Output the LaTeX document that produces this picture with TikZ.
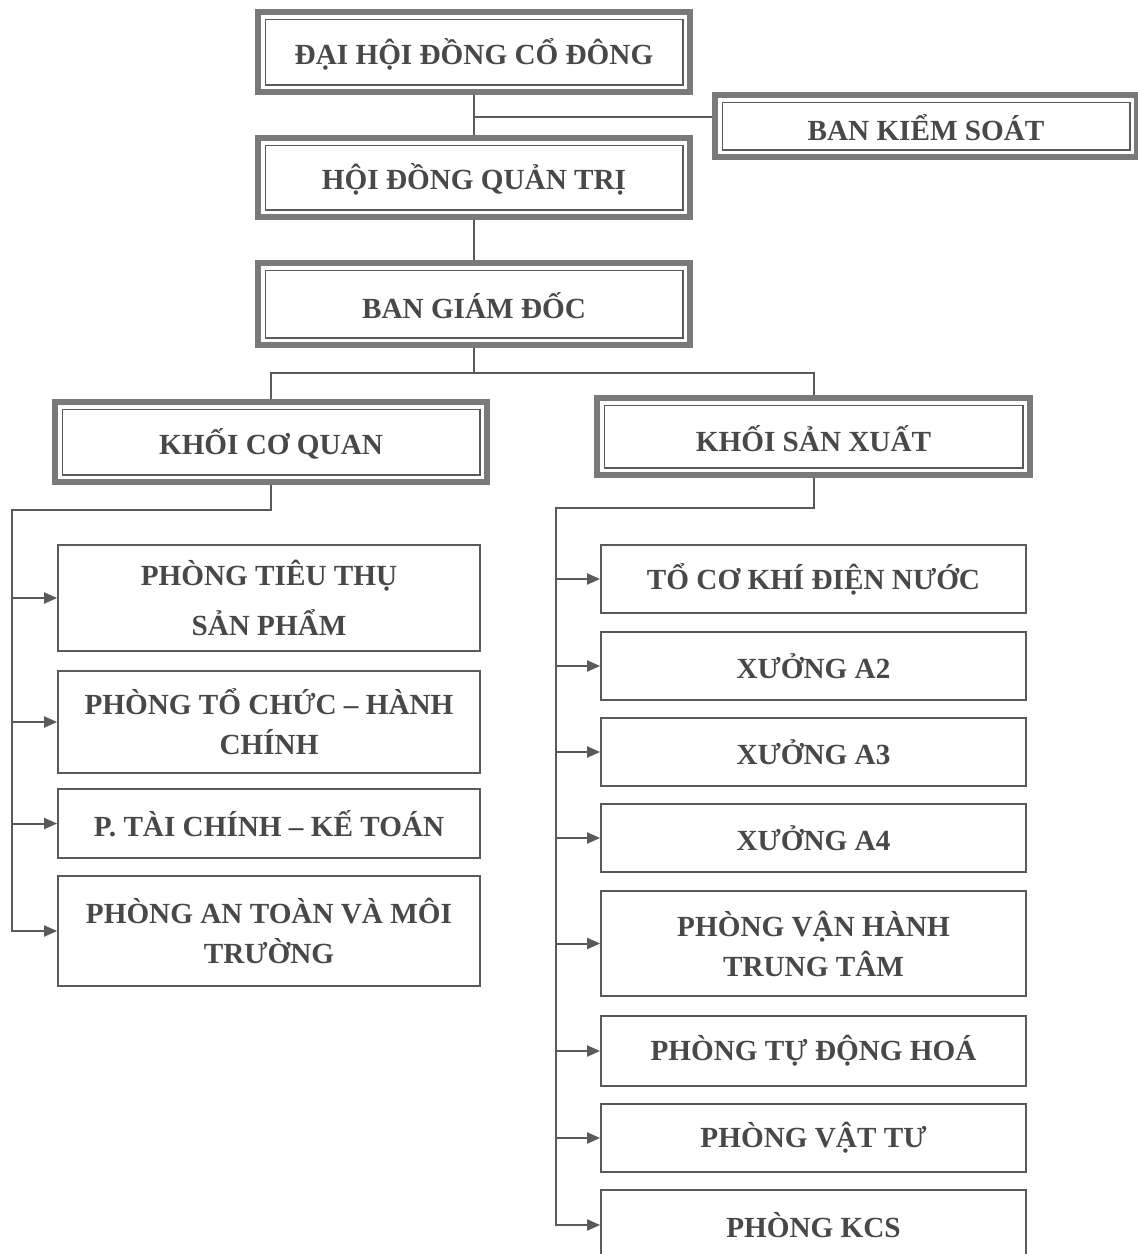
\documentclass[tikz,border=0pt]{standalone}
\usepackage{fontspec}
\setmainfont{Liberation Serif}
\usetikzlibrary{arrows.meta,calc}
\definecolor{ink}{HTML}{484848}
\definecolor{ln}{HTML}{5A5A5A}
\definecolor{lnb}{HTML}{7A7A7A}
\begin{document}
\begin{tikzpicture}[x=0.5pt,y=-0.5pt,
  txt/.style={font=\fontsize{14.6}{20}\selectfont\bfseries, text=ink, align=center, inner sep=0pt},
  sbox/.style={txt, draw=ln, line width=0.9pt},
  dbox/.style={txt, draw=lnb, line width=2.6pt, text height=15pt,
    path picture={\draw[ln,line width=0.7pt]
      ([shift={(3.6pt,-3.6pt)}]path picture bounding box.north west) rectangle
      ([shift={(-3.6pt,3.6pt)}]path picture bounding box.south east);}},
  conn/.style={draw=ln, line width=1pt},
  arr/.style={conn, -{Triangle[length=6.5pt,width=5.5pt,fill=ln]}}]
\useasboundingbox[fill=white] (0,0) rectangle (1137,1254);
% top part
\node[dbox, minimum width=216pt, minimum height=40pt] (dh) at (474,52) {ĐẠI HỘI ĐỒNG CỔ ĐÔNG};
\node[dbox, minimum width=211pt, minimum height=31pt] (bks) at (926,126) {BAN KIỂM SOÁT};
\node[dbox, minimum width=216pt, minimum height=39.5pt] (hdqt) at (474,177.5) {HỘI ĐỒNG QUẢN TRỊ};
\node[dbox, minimum width=216pt, minimum height=41pt] (bgd) at (474,304) {BAN GIÁM ĐỐC};
\node[dbox, minimum width=216pt, minimum height=40pt] (kcq) at (271,442) {KHỐI CƠ QUAN};
\node[dbox, minimum width=216.5pt, minimum height=38.5pt] (ksx) at (813.5,436.5) {KHỐI SẢN XUẤT};
% left column
\node[sbox, minimum width=211pt, minimum height=53pt] (l1) at (269,598) {PHÒNG TIÊU THỤ\\[5pt]SẢN PHẨM};
\node[sbox, minimum width=211pt, minimum height=51pt] (l2) at (269,722) {PHÒNG TỔ CHỨC – HÀNH\\CHÍNH};
\node[sbox, minimum width=211pt, minimum height=34.5pt] (l3) at (269,823.5) {P. TÀI CHÍNH – KẾ TOÁN};
\node[sbox, minimum width=211pt, minimum height=55pt] (l4) at (269,931) {PHÒNG AN TOÀN VÀ MÔI\\TRƯỜNG};
% right column
\node[sbox, minimum width=212.5pt, minimum height=34pt] (r1) at (813.5,579) {TỔ CƠ KHÍ ĐIỆN NƯỚC};
\node[sbox, minimum width=212.5pt, minimum height=34pt] (r2) at (813.5,666) {XƯỞNG A2};
\node[sbox, minimum width=212.5pt, minimum height=34pt] (r3) at (813.5,752) {XƯỞNG A3};
\node[sbox, minimum width=212.5pt, minimum height=34pt] (r4) at (813.5,838) {XƯỞNG A4};
\node[sbox, minimum width=212.5pt, minimum height=52.5pt] (r5) at (813.5,943.5) {PHÒNG VẬN HÀNH\\TRUNG TÂM};
\node[sbox, minimum width=212.5pt, minimum height=35pt] (r6) at (813.5,1051) {PHÒNG TỰ ĐỘNG HOÁ};
\node[sbox, minimum width=212.5pt, minimum height=34pt] (r7) at (813.5,1138) {PHÒNG VẬT TƯ};
\node[sbox, minimum width=212.5pt, minimum height=35pt] (r8) at (813.5,1225) {PHÒNG KCS};
% connectors
\coordinate (j1) at (474,117);
\coordinate (j2) at (474,373);
\coordinate (lb) at (12,510);
\coordinate (rb) at (556,508);
\draw[conn] (dh.south) -- (hdqt.north);
\draw[conn] (j1) -- (j1 -| bks.west);
\draw[conn] (hdqt.south) -- (bgd.north);
\draw[conn] (bgd.south) -- (j2);
\draw[conn] (kcq.north) |- (j2) -| (ksx.north);
\draw[conn] (kcq.south) |- (lb) -- (lb |- l4.west);
\foreach \n in {l1,l2,l3,l4} \draw[arr] (lb) |- (\n.west);
\draw[conn] (ksx.south) |- (rb) -- (rb |- r8.west);
\foreach \n in {r1,r2,r3,r4,r5,r6,r7,r8} \draw[arr] (rb) |- (\n.west);
\end{tikzpicture}
\end{document}
